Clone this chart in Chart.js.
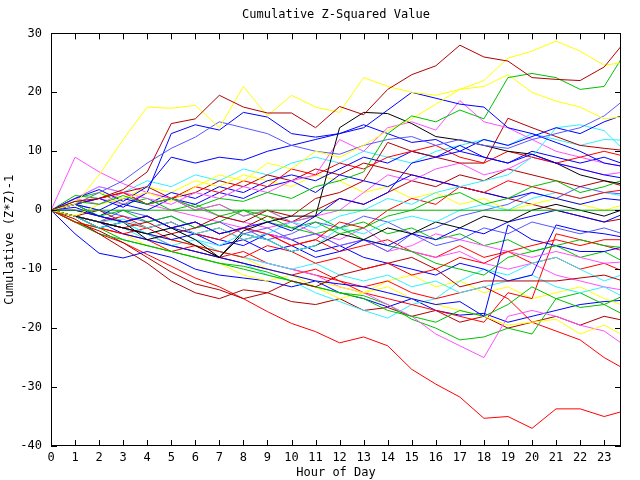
<!DOCTYPE html>
<html>
<head>
<meta charset="utf-8">
<script src="https://cdn.jsdelivr.net/npm/chart.js@4/dist/chart.umd.min.js"></script>
<style>
html,body{margin:0;padding:0;background:#fff;}
#wrap{width:640px;height:480px;}
</style>
</head>
<body>
<div id="wrap"><canvas id="c" width="640" height="480"></canvas></div>
<script>
const hours = [0,1,2,3,4,5,6,7,8,9,10,11,12,13,14,15,16,17,18,19,20,21,22,23,23.7];
const xTicks = [0,1,2,3,4,5,6,7,8,9,10,11,12,13,14,15,16,17,18,19,20,21,22,23];
const yTicks = [-40,-30,-20,-10,0,10,20,30];

const s01 = [0,1.5,2,3.5,6.5,14.7,15.5,19.5,17.5,16.5,16.5,14,17.6,16.2,20.5,23,24.5,28,26,25.3,22.5,22.2,22,24.3,27.8];
const s02 = [0,1,6,12,17.5,17.3,17.8,14,21,16,19.5,17.5,16.6,22.5,21,20,19.5,20.5,22,25.8,27,28.7,27,24.6,25];
const s03 = [0,1.5,1,2.5,1,2,0.5,2,1.5,3,2,4,5,6.5,13,16,15,17,15.5,22.5,23.2,22.5,20.5,21,25.6];
const s04 = [0,-1,1,2,3,1.5,4,6,5,8,7,10,9,11,13.5,15.5,18,20.5,21,23,20,18.5,17.5,15.5,15.8];
const s05 = [0,1,3,5,8,10.5,12.4,15,14,13,11,10,9.5,11,12,12.5,11,12,11,10.5,12,13,14,16,18.3];
const s06 = [0,2,3.5,1.5,4,9,8,9,8.5,10,11,12,13,14,17,20,19,18,17.5,14,13,11.5,10,8,7.5];
const s07 = [0,1,2,0.5,3,13,14.5,13.6,16.6,15.8,13,12.4,13,14.5,13,11.5,12,10,9,8,9.5,8,7,6,5.5];
const s08 = [0,-1,-2,-3,-4,-3,-5,-8,-3.5,-2,-1,-1,14,16.6,16.4,14.7,12.5,11.9,11,10,9.5,8,6,5,4.5];
const s09 = [0,0.5,-1,-2,-1,-3,-2,-4,-3,-2,-3.5,-1,2,1,3,8,9,10,12,11,12.5,14,13,15,16];
const s10 = [0,-1,-2,-1.5,-3,-2,-4,-3,-5,-4,-2,-3,-1,0,2,1,3,4,5,6,9,14,14.5,13.5,10.7];
const s11 = [0,1,2,3,1,2,4,3,5,4,7,6,8,7,9,10,11,9,8,10,9,8,9,10,9.3];
const s12 = [0,2,1,3,2,1,3,2,4,3,5,6,12,10,14,15,13.6,18.6,15,14,12,10,9,8,7.5];
const s13 = [0,-1,-2,-3,-2,-4,-3,-1,-2,0,-1,2,3,5,11.5,10,9,8,8,15.6,14,12.5,11,10.5,10.2];
const s14 = [0,1,0,2,1,3,2,4,3,5,6,5,7,9,8,10,9,11,9,8,10,9,8,9,8];
const s15 = [0,1,-1,0,-2,-1,-3,-2,0,-1,-3,-2,-4,-3,-1,0,2,3,1,2,4,5,3,4,5];
const s16 = [0,-1,-2,-1,-3,-2,-4,-5,-3,-4,-6,-5,-2,-3,0,2,1,4,3,5,4,3,2,3,3.4];
const s17 = [0,0,-1,1,0,2,1,3,2,4,5,3,6,5,4,6,5,4,3,2,3,2,1,2,1.7];
const s18 = [0,-1,-3,-2,-4,-3,-5,-6,-4,-5,-7,-6,-3,-4,-2,-1,-2,0,1,0,2,3,2,3,2.5];
const s19 = [0,1,2,1,3,2,0,1,-1,0,-2,-1,0,3,6,5,7,8,6,7,9,8,7,6,6.4];
const s20 = [0,-1,0,-2,-1,-3,-2,-4,-3,-1,-2,0,2,1,3,5,4,6,5,7,6,5,4,5,4.2];
const s21 = [0,1,3,2,4,3,5,4,6,5,4,6,5,3,4,2,3,1,2,0,1,2,1,0,0.8];
const s22 = [0,-1,-3,-2,-5,-4,-6,-8,-4,-5,-7,-6,-4,-5,-3,-4,-2,-3,-1,-2,0,1,0,-1,0];
const s23 = [0,-1,-2,-3,-4,-5,-4,-6,-5,-7,-6,-8,-7,-5,-6,-4,-5,-3,-4,-2,-1,0,-1,-2,-0.8];
const s24 = [0,1,0,-1,-2,-1,-3,-2,-4,-3,-5,-4,-6,-5,-7,-4,-6,-5,-3,-4,-2,-3,-4,-3,-3.9];
const s25 = [0,-2,-3,-4,-3,-5,-6,-7,-8,-6,-7,-9,-8,-10,-9,-11,-10,-8,-9,-7,-6,-5,-6,-5,-5];
const s26 = [0,2,4,3,1,0,-1,-2,-3,-4,-5,-4,-6,-5,-7,-6,-4,-5,-6,-7,-8,-7,-8,-9,-8.8];
const s27 = [0,-1.5,-4,-6.5,-9,-12,-14,-15,-13.5,-14,-12,-13,-11,-10,-9,-8,-10,-13,-12,-12,-12,-12,-11.5,-11,-11.9];
const s28 = [0,2,3,1,2,0,1,-1,0,-2,-3,-4,-3,-5,-6,-7,-9,-10,-11,-8,-7,-6,-5,-6,-6.3];
const s29 = [0,-1,-2,-4,-5,-6,-7,-8,-9,-10,-11,-12,-12.5,-13,-14,-15,-16,-15.5,-18,-2.5,-5,-6,-7,-7,-6.3];
const s30 = [0,1,-1,-2,-1,-3,-4,-5,-6,-4,-5,-7,-6,-8,-9,-10,-11,-9,-10,-12,-11,-2.5,-3.5,-4,-4.5];
const s31 = [0,-1,-3,-2,-4,-6,-5,-7,-8,-9,-10,-9,-11,-12,-11,-13,-12,-14,-13,-12,-11,-13,-14,-13,-14.5];
const s32 = [0,-2,-3,-5,-6,-7,-8,-9,-10,-11,-12,-13,-14,-15,-17,-18,-19,-17,-18,-16,-13,-15,-14,-16,-14.7];
const s33 = [0,-1,-2,-3,-4,-5,-6,-7,-8,-10,-11,-12,-13,-14,-13,-15,-16,-17,-18,-19.5,-19,-18.5,-21,-19.5,-21];
const s34 = [0,-1,-2,-3,-4,-5,-6,-7,-8,-9,-10,-11,-13,-14,-16,-18,-21,-23,-25,-18,-17,-18,-19.5,-20.5,-22.5];
const s35 = [0,-2,-4,-5,-6,-7,-8,-9,-9.5,-10.5,-12,-13,-14,-14.5,-16,-18.5,-20,-22,-21.5,-20,-21,-15,-16.5,-16,-17.5];
const s36 = [0,-1,-3,-4,-5,-7,-6,-8,-9,-10,-11,-10,-12,-13,-12,-14,-15,-14,-13,-15,-19,-20.5,-22,-25,-26.6];
const s37 = [0,-1,-2,-3,-4,-6,-7,-8,-7,-9,-10,-11,-12,-14,-15,-16,-17,-18,-19,-14,-15,-4,-5,-6,-6.8];
const s38 = [0,-1,-2,-3,-5,-6,-7,-8,-9,-11,-12,-14,-15.5,-17,-18.3,-16,-15,-12,-10,-11,-9,-8,-10,-12,-11];
const s39 = [0,-2,-3,-4,-6,-7,-8,-9,-11,-12,-11,-13,-15,-14,-12,-11,-13,-12,-14,-13,-15,-14,-13,-15,-16];
const s40 = [0,1,2,3,4,2,3,5,4,6,5,7,6,8,7,6,5,4,3,2,1,0,-1,-2,-1.5];
const s41 = [0,9,6.5,4.5,3,2,0.5,-1,-2,-3,-2,-4,-5,-3,-6,-7,-8,-7,-9,-10,-9,-11,-12,-13,-13.5];
const s42 = [0,0,-1,-2,-3,-2,-4,-3,-5,-4,-6,-5,-7,-6,-5,-7,-8,-6,-8,-7,-9,-8,-10,-9,-10.2];
const s43 = [0,2.5,2,3,1,2,0,1,-1,0,-2,-1,-3,-2,-4,-3,-5,-4,-6,-5,-7,-6,-8,-7,-8.5];
const s44 = [0,-4,-7.3,-8.1,-7,-8,-10,-11,-11.5,-12,-13,-12,-14,-15,-16.4,-15,-17,-17.8,-17.5,-19,-18,-17,-16,-15.5,-15.3];
const s45 = [0,2,4,3,5,4,6,5,7,6,8,9,8,10,9,8,10,11,12,11,13,12,11,12,11.9];
const s46 = [0,-1,-2,0,-1,-3,-2,-4,-3,-5,-4,-2,-3,-1,-2,-4,-3,-1,0,1,3,2,4,3,2.8];
const s47 = [0,-2,-3.5,-5.5,-8,-10.5,-12.5,-13.5,-15,-14,-15.5,-16,-15,-17,-16.5,-18,-17,-19,-18,-20,-19,-18,-19.5,-18,-18.6];
const s48 = [0,-2,-4,-5.5,-7.5,-9.5,-11.5,-13,-15,-17.2,-19.2,-20.6,-22.5,-21.5,-23,-27,-29.5,-31.7,-35.3,-35,-37,-33.7,-33.7,-35,-34.2];
const zeroLine = hours.map(() => 0);

const RED='#ff0000', GRN='#00c000', BLU='#0000ff', MAG='#ff50ff', CYN='#30f0ff',
      DRD='#b00000', YEL='#ffff00', BLK='#000000', LBL='#5858ff';

const series = [s01,s02,s03,s04,s05,s06,s07,s08,s09,s10,s11,s12,s13,s14,s15,s16,s17,s18,s19,s20,
                s21,s22,s23,s24,s25,s26,s27,s28,s29,s30,s31,s32,s33,s34,s35,s36,s37,s38,s39,s40,
                s41,s42,s43,s44,s45,s46,s47,s48];
const seriesColors = [DRD,YEL,GRN,YEL,LBL,BLU,BLU,BLK,BLU,CYN,RED,MAG,DRD,BLU,GRN,RED,BLU,CYN,MAG,DRD,
                      YEL,BLK,BLU,LBL,RED,MAG,DRD,GRN,BLU,BLU,CYN,GRN,YEL,MAG,GRN,RED,RED,CYN,YEL,DRD,
                      MAG,RED,GRN,BLU,CYN,LBL,DRD,RED];

const FONT = 'DejaVu Sans Mono';

const datasets = [{
  data: zeroLine.map((v,i)=>({x:hours[i], y:v})),
  borderColor: '#00b000', borderWidth: 1, pointRadius: 0, fill: false
}].concat(series.map((s, i) => ({
  data: s.map((v, j) => ({x: hours[j], y: v})),
  borderColor: seriesColors[i], borderWidth: 1, pointRadius: 0, fill: false
})));

const frame = {
  id: 'frame',
  afterDraw(chart) {
    const ctx = chart.ctx, a = chart.chartArea;
    const xs = chart.scales.x, ys = chart.scales.y;
    ctx.save();
    ctx.strokeStyle = '#000';
    ctx.lineWidth = 1;
    ctx.beginPath();
    xTicks.forEach(v => {
      const p = Math.round(xs.getPixelForValue(v)) + 0.5;
      ctx.moveTo(p, a.bottom); ctx.lineTo(p, a.bottom - 6);
      ctx.moveTo(p, a.top); ctx.lineTo(p, a.top + 6);
    });
    yTicks.forEach(v => {
      const p = Math.round(ys.getPixelForValue(v)) + 0.5;
      ctx.moveTo(a.left, p); ctx.lineTo(a.left + 6, p);
      ctx.moveTo(a.right, p); ctx.lineTo(a.right - 6, p);
    });
    ctx.stroke();
    ctx.strokeRect(Math.round(a.left) + 0.5, Math.round(a.top) + 0.5,
                   Math.round(a.right - a.left) - 1, Math.round(a.bottom - a.top) - 1);
    ctx.restore();
  }
};

new Chart(document.getElementById('c'), {
  type: 'line',
  data: { datasets },
  options: {
    responsive: false,
    animation: false,
    events: [],
    layout: { padding: { left: 0, right: 19, top: 0, bottom: 0 } },
    plugins: {
      legend: { display: false },
      tooltip: { enabled: false },
      title: {
        display: true,
        fullSize: false,
        text: 'Cumulative Z-Squared Value',
        color: '#000',
        font: { family: FONT, size: 12, weight: 'normal', lineHeight: 1.2 },
        padding: { top: 8, bottom: 11 }
      }
    },
    elements: { line: { tension: 0 } },
    scales: {
      x: {
        type: 'linear', min: 0, max: 23.7,
        afterFit(s) { s.height = 34; },
        afterBuildTicks(s) { s.ticks = xTicks.map(v => ({value: v})); },
        grid: { display: false, drawTicks: false },
        border: { display: false },
        ticks: { color: '#000', padding: 5, autoSkip: false, maxRotation: 0,
                 font: { family: FONT, size: 12 } },
        title: { display: true, text: 'Hour of Day', color: '#000',
                 font: { family: FONT, size: 12 }, padding: { top: 0, bottom: 0 } }
      },
      y: {
        type: 'linear', min: -40, max: 30,
        afterFit(s) { s.width = 51; },
        afterBuildTicks(s) { s.ticks = yTicks.map(v => ({value: v})); },
        grid: { display: false, drawTicks: false },
        border: { display: false },
        ticks: { color: '#000', padding: 9, font: { family: FONT, size: 12 } },
        title: { display: true, text: 'Cumulative (Z*Z)-1', color: '#000',
                 font: { family: FONT, size: 12 }, padding: { top: 3, bottom: 0 } }
      }
    }
  },
  plugins: [frame]
});
</script>
</body>
</html>
